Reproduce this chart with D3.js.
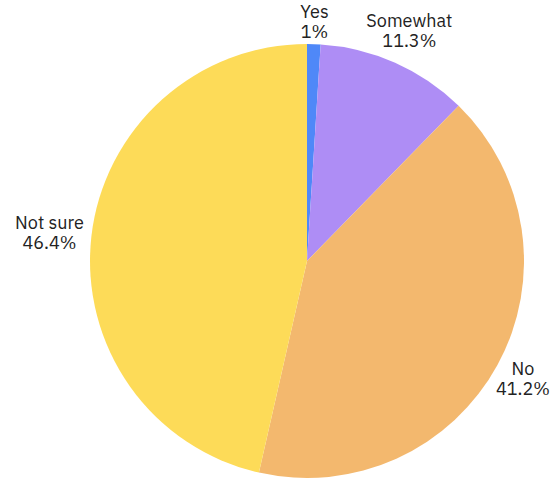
<!DOCTYPE html>
<html>
<head>
<meta charset="utf-8">
<script src="https://cdn.jsdelivr.net/npm/d3@7"></script>
<style>
  html, body { margin: 0; padding: 0; background: #fff; }
  svg { display: block; }
</style>
</head>
<body>
<svg id="chart" width="560" height="481"></svg>
<script>
// Survey answers and their shares (percent)
const categories = ["Yes", "Somewhat", "No", "Not sure"];
const values = [1, 11.3, 41.2, 46.4];
const valueLabels = ["1%", "11.3%", "41.2%", "46.4%"];
const colors = ["#4f88f8", "#ae8df5", "#f3b86e", "#fddb58"];

const width = 560, height = 481;
const cx = 307, cy = 261, radius = 217;
// extra radial spacing for each outside label (px)
const labelNudge = [3, 0, -5, 4];

const svg = d3.select("#chart");
const g = svg.append("g").attr("transform", `translate(${cx},${cy})`);

const data = categories.map((c, i) => ({ name: c, value: values[i], label: valueLabels[i], color: colors[i] }));

const pie = d3.pie().sort(null).value(d => d.value);
const arc = d3.arc().innerRadius(0).outerRadius(radius);
const arcs = pie(data);

g.selectAll("path.slice")
  .data(arcs)
  .join("path")
  .attr("class", "slice")
  .attr("d", arc)
  .attr("fill", d => d.data.color);

// Two-line labels placed just outside each slice, pushed out by their own box size
const fontSize = 18, lineH = 20, pad = 2;
const labels = g.selectAll("g.label")
  .data(arcs)
  .join("g")
  .attr("class", "label");

labels.each(function(d, i) {
  const sel = d3.select(this);
  const t = sel.append("text")
    .attr("text-anchor", "middle")
    .attr("font-family", "'IBM Plex Sans', 'Open Sans', sans-serif")
    .attr("font-size", fontSize)
    .attr("fill", "#222");
  t.append("tspan").attr("x", 0).attr("y", -lineH / 2 + 6.5).text(d.data.name);
  t.append("tspan").attr("x", 0).attr("y", lineH / 2 + 6.5).text(d.data.label);
  const bb = t.node().getBBox();
  const mid = (d.startAngle + d.endAngle) / 2;
  const sx = Math.sin(mid), sy = -Math.cos(mid);
  const ext = Math.abs(sx) * bb.width / 2 + Math.abs(sy) * (lineH * 2 - 6) / 2;
  const r = radius + pad + ext + labelNudge[i];
  sel.attr("transform", `translate(${sx * r},${sy * r})`);
});
</script>
</body>
</html>
